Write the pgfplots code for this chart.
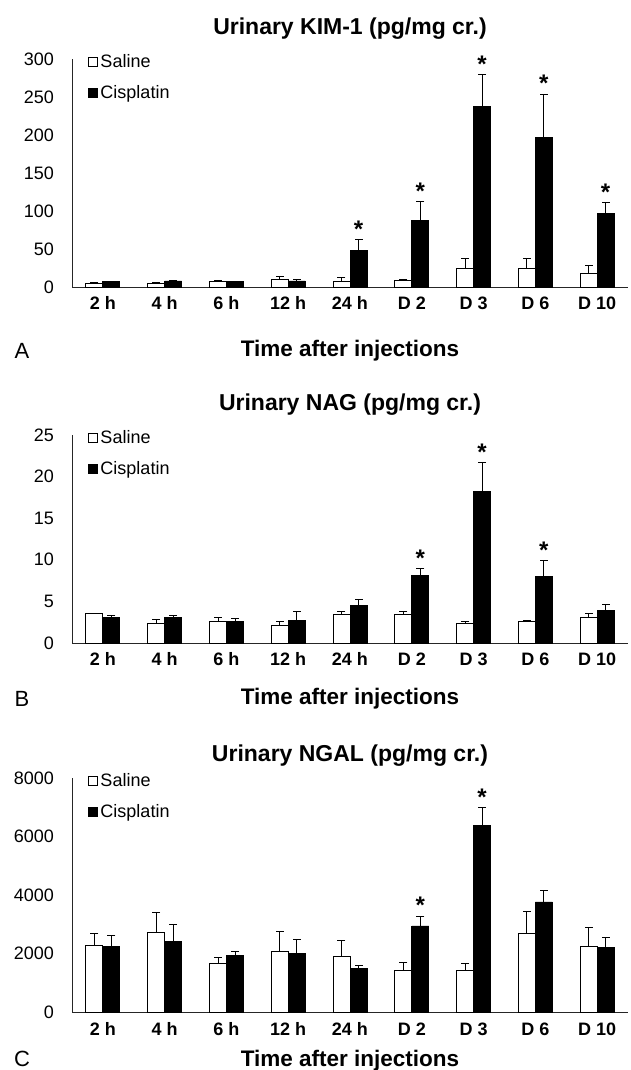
\documentclass[border=0pt]{standalone}
\usepackage{fontspec}
\setmainfont{Liberation Sans}
\usepackage{pgfplots}
\usepackage{pgfplotstable}
\pgfplotsset{compat=1.18}

% KIM-1
\pgfplotstableread{
x sal salerr cis ciserr
0 4.5 1.0 7 1.0
1 4.5 1.0 8 1.0
2 7 2.0 7 1.0
3 10.5 4.0 8 2.5
4 8 4.0 48 14
5 9 0.5 88 24
6 24 13 237 43
7 25 12 197 57
8 17.5 11.5 97 14
}\kimdata
\pgfplotstableread{
x y
4 62
5 112
6 280
7 254
8 111
}\kimstar
% NAG
\pgfplotstableread{
x sal salerr cis ciserr
0 3.54 0.06 3.1 0.25
1 2.4 0.4 3.1 0.25
2 2.6 0.45 2.6 0.3
3 2.1 0.5 2.7 1.1
4 3.4 0.4 4.5 0.7
5 3.4 0.4 8.1 0.9
6 2.4 0.2 18.2 3.5
7 2.6 0.1 8.0 1.9
8 3.1 0.4 3.9 0.7
}\nagdata
\pgfplotstableread{
x y
5 9.0
6 21.7
7 9.9
}\nagstar
% NGAL
\pgfplotstableread{
x sal salerr cis ciserr
0 2277 400 2254 366
1 2712 709 2403 595
2 1648 228 1934 149
3 2083 663 2002 481
4 1900 549 1499 80
5 1430 252 2941 343
6 1430 218 6373 606
7 2678 777 3764 401
8 2254 652 2197 366
}\ngaldata
\pgfplotstableread{
x y
5 3284
6 6979
}\ngalstar

\tikzset{
  ttl/.style={font=\fontsize{23bp}{23bp}\selectfont\bfseries, anchor=base, inner sep=0pt},
  xlb/.style={font=\fontsize{22.5bp}{23bp}\selectfont\bfseries, anchor=base, inner sep=0pt},
  ltr/.style={font=\fontsize{22bp}{22bp}\selectfont, anchor=base, inner sep=0pt},
}

\pgfplotsset{
  panel/.style={
    scale only axis, width=556bp,
    xmin=-0.5, xmax=8.5, ymin=0,
    axis lines*=left,
    axis line style={-, line width=0.8bp, black!85},
    xtick={0,...,8},
    xticklabels={2 h,4 h,6 h,12 h,24 h,D 2,D 3,D 6,D 10},
    major tick length=0pt,
    scaled y ticks=false,
    /pgf/number format/1000 sep={},
    /pgf/number format/assume math mode=true,
    yticklabel style={font=\fontsize{18bp}{20bp}\selectfont, anchor=east, xshift=-18bp, inner sep=0pt},
    xticklabel style={font=\fontsize{18bp}{20bp}\selectfont\bfseries, anchor=base, yshift=-23bp, inner sep=0pt},
    clip=false,
    legend style={at={(rel axis cs:0,1)}, anchor=north west, xshift=16bp, yshift=8bp,
      draw=none, fill=none, inner sep=0pt,
      font=\fontsize{18bp}{20bp}\selectfont, row sep=11bp,
      nodes={inner xsep=2.5bp, inner ysep=3bp}},
    legend cell align=left,
  },
  salbar/.style={ybar, bar width=17bp, bar shift=0pt, fill=white, draw=black, line width=0.8bp,
    legend image code/.code={\draw[fill=white, draw=black, line width=0.8bp] (0bp,-4.5bp) rectangle (9bp,4.5bp);}},
  cisbar/.style={ybar, bar width=17bp, bar shift=0pt, fill=black, draw=black, line width=0.8bp,
    legend image code/.code={\draw[fill=black, draw=black, line width=0.8bp] (0bp,-4.5bp) rectangle (9bp,4.5bp);}},
  errline/.style={draw=none, mark=none, forget plot,
    error bars/.cd, y dir=plus, y explicit, error mark=none,
    error bar style={draw=black, line width=0.8bp}},
  errcap/.style={only marks, mark=-, mark size=4bp, forget plot,
    mark options={draw=black, line width=0.8bp}},
  starplot/.style={draw=none, mark=none, forget plot,
    nodes near coords={\textbf{*}},
    every node near coord/.append style={anchor=base, yshift=2bp, xshift=8.5bp, inner sep=0pt,
      font=\fontsize{24bp}{24bp}\selectfont\bfseries}},
}

% bar offset in data units: 8.5bp / (556bp/9)
\def\off{0.1376}
\newcommand\panelplots[2]{%
  \addplot[salbar] table[x expr=\thisrow{x}-\off, y=sal]{#1};
  \addplot[cisbar] table[x expr=\thisrow{x}+\off, y=cis]{#1};
  \addplot[errline] table[x expr=\thisrow{x}-\off, y=sal, y error=salerr]{#1};
  \addplot[errline] table[x expr=\thisrow{x}+\off, y=cis, y error=ciserr]{#1};
  \addplot[errcap] table[x expr=\thisrow{x}-\off, y expr=\thisrow{sal}+\thisrow{salerr}]{#1};
  \addplot[errcap] table[x expr=\thisrow{x}+\off, y expr=\thisrow{cis}+\thisrow{ciserr}]{#1};
  \addplot[starplot] table[x=x, y=y]{#2};
  \legend{Saline, Cisplatin}
}

\begin{document}
\begin{tikzpicture}
\path[use as bounding box] (0bp,0bp) rectangle (631bp,1070bp);

% Panel A
\begin{axis}[panel, at={(72bp,783bp)}, anchor=south west, height=228bp,
  ymax=300, ytick={0,50,...,300}]
  \panelplots{\kimdata}{\kimstar}
  \node[ttl, yshift=24.5bp] at (rel axis cs:0.5,1) {Urinary KIM-1 (pg/mg cr.)};
  \node[xlb, yshift=-69.5bp] at (rel axis cs:0.5,0) {Time after injections};
  \node[ltr, xshift=-50bp, yshift=-72bp] at (rel axis cs:0,0) {A};
\end{axis}

% Panel B
\begin{axis}[panel, at={(72bp,427bp)}, anchor=south west, height=208bp,
  ymax=25, ytick={0,5,...,25}]
  \panelplots{\nagdata}{\nagstar}
  \node[ttl, yshift=24.5bp] at (rel axis cs:0.5,1) {Urinary NAG (pg/mg cr.)};
  \node[xlb, yshift=-62bp] at (rel axis cs:0.5,0) {Time after injections};
  \node[ltr, xshift=-50bp, yshift=-64bp] at (rel axis cs:0,0) {B};
\end{axis}

% Panel C
\begin{axis}[panel, at={(72bp,58bp)}, anchor=south west, height=234bp,
  ymax=8000, ytick={0,2000,...,8000}]
  \panelplots{\ngaldata}{\ngalstar}
  \node[ttl, yshift=16.5bp] at (rel axis cs:0.5,1) {Urinary NGAL (pg/mg cr.)};
  \node[xlb, yshift=-54bp] at (rel axis cs:0.5,0) {Time after injections};
  \node[ltr, xshift=-50bp, yshift=-54bp] at (rel axis cs:0,0) {C};
\end{axis}
\end{tikzpicture}
\end{document}
